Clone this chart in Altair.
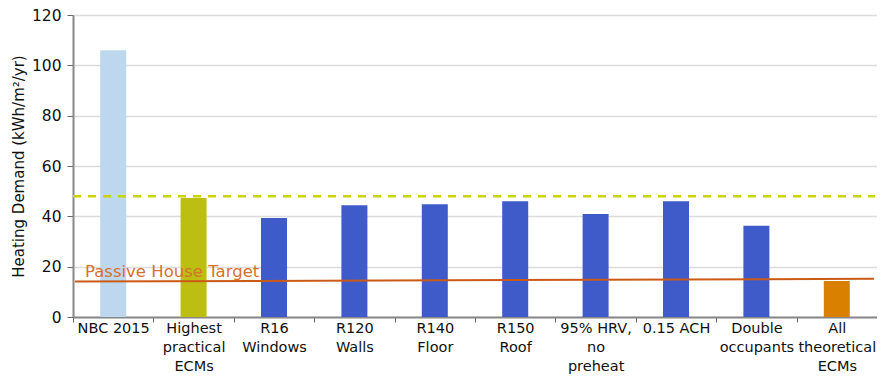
import altair as alt
import pandas as pd

categories = [
    "NBC 2015", "Highest\npractical\nECMs", "R16\nWindows", "R120\nWalls",
    "R140\nFloor", "R150\nRoof", "95% HRV,\nno\npreheat", "0.15  ACH",
    "Double\noccupants", "All\ntheoretical\nECMs",
]
values = [106.0, 47.3, 39.3, 44.4, 44.8, 46.0, 40.9, 46.0, 36.3, 14.3]
colors = ["#BDD7EE", "#BCBF12", "#3F5BC9", "#3F5BC9", "#3F5BC9", "#3F5BC9",
          "#3F5BC9", "#3F5BC9", "#3F5BC9", "#D98000"]
practical_level = 48.0
passive_start, passive_end = 14.1, 15.2
passive_label = "Passive House Target"
passive_label_y = 15.9

df = pd.DataFrame({"cat": categories, "val": values, "color": colors})

FONT = "DejaVu Sans"
W, H = 804, 302

x = alt.X("cat:N", sort=categories, title=None,
          scale=alt.Scale(paddingInner=0, paddingOuter=0),
          axis=alt.Axis(labelExpr="isValid(datum.value) ? split(datum.value, '\\n') : ''",
                        labelAngle=0,
                        labelFont=FONT, labelFontSize=14.5, labelColor="#111",
                        labelLineHeight=19, labelPadding=-1, tickBand="extent",
                        tickSize=5, tickColor="#666", domainColor="#888",
                        domainWidth=2, grid=False, labelBaseline="top"))
y = alt.Y("val:Q", title="Heating Demand (kWh/m²/yr)",
          scale=alt.Scale(domain=[0, 120], nice=False),
          axis=alt.Axis(values=[0, 20, 40, 60, 80, 100, 120], labelFont=FONT,
                        labelFontSize=15.5, labelColor="#111", tickSize=6,
                        tickColor="#666", domainColor="#888", domainWidth=2,
                        gridColor="#DCDCDC", gridWidth=1.5, labelPadding=6,
                        titleFont=FONT, titleFontSize=15, titleFontWeight="normal",
                        titleColor="#111", titlePadding=5))

bars = alt.Chart(df).mark_bar(width=26).encode(
    x=x, y=y, color=alt.Color("color:N", scale=None))

dash = alt.Chart(pd.DataFrame({"v": [practical_level]})).mark_rule(
    color="#CCD400", strokeWidth=2.5, strokeDash=[8, 7]).encode(
    y="v:Q", x=alt.value(0), x2=alt.value(W - 2))

ph = alt.Chart(pd.DataFrame({"a": [passive_start], "b": [passive_end]})).mark_rule(
    color="#CC5A17", strokeWidth=2).encode(
    y="a:Q", y2="b:Q", x=alt.value(2), x2=alt.value(W - 3))

txt = alt.Chart(pd.DataFrame({"t": [passive_label], "v": [passive_label_y]})).mark_text(
    align="left", baseline="alphabetic", font=FONT, fontSize=16.5,
    color="#D7712E").encode(text="t:N", y="v:Q", x=alt.value(12))

chart = alt.layer(bars, dash, ph, txt).properties(
    width=W, height=H,
    autosize=alt.AutoSizeParams(type="none"),
    padding={"left": 65, "top": 7, "right": 0, "bottom": 60},
).configure_view(stroke=None).configure(background="white")

chart.save("out.html", embed_options={"renderer": "svg", "actions": False})
